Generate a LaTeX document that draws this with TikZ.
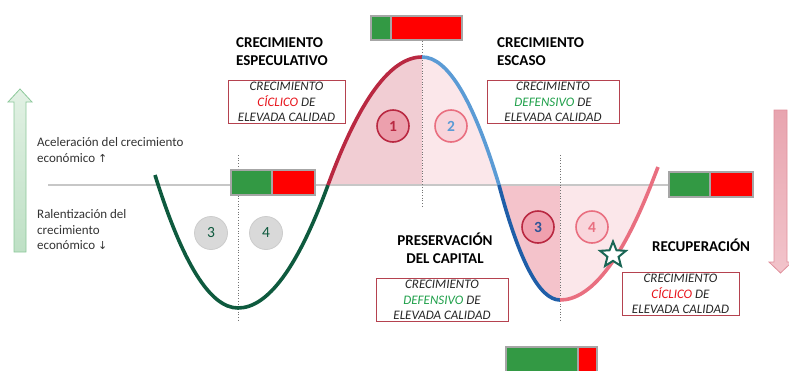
\documentclass[tikz,border=0pt]{standalone}
\usepackage{fontspec}
\setmainfont{Carlito}
\newfontfamily\symf{DejaVu Sans}
\usetikzlibrary{shapes.geometric}
\definecolor{cgreen}{HTML}{0E5A3E}
\definecolor{cred}{HTML}{B92841}
\definecolor{clblue}{HTML}{5B9BD5}
\definecolor{cdblue}{HTML}{1F5EA8}
\definecolor{cpink}{HTML}{E96F80}
\definecolor{fdark}{HTML}{F1CDD3}
\definecolor{flight}{HTML}{FBE7EA}
\definecolor{fdark2}{HTML}{F4C3CB}
\definecolor{barg}{HTML}{339944}
\definecolor{barr}{HTML}{FF0000}
\definecolor{barf}{HTML}{A6A6A6}
\definecolor{boxc}{HTML}{B5424F}
\definecolor{txt}{HTML}{262626}
\definecolor{axtxt}{HTML}{333333}
\definecolor{cyred}{HTML}{E8131B}
\definecolor{dfgreen}{HTML}{1FA04A}
\definecolor{startl}{HTML}{1A6655}
\tikzset{
  curve/.style={line width=3.6pt},
  zeroline/.style={draw=black!22, line width=1.8pt},
  vdot/.style={draw=black!55, dotted, line width=0.7pt},
  bigl/.style={font=\fontsize{15}{18}\selectfont\bfseries, text=black, inner sep=0pt, anchor=base west},
  boxt/.style={font=\fontsize{13}{15}\selectfont\itshape, text=txt, inner sep=0pt, anchor=base},
  axl/.style={font=\fontsize{13}{16}\selectfont, text=axtxt, inner sep=0pt, anchor=base west},
  tbox/.style={draw=boxc, line width=1.2pt, fill=white, rectangle, inner sep=0pt, anchor=north west},
  numc/.style={circle, minimum size=32pt, inner sep=0pt, line width=1.6pt, font=\fontsize{15.5}{17}\selectfont\bfseries},
  grayc/.style={circle, minimum size=33pt, inner sep=0pt, line width=0.8pt, draw=black!20, fill=black!15, text=cgreen, font=\fontsize{15.5}{17}\selectfont},
}
\begin{document}
\begin{tikzpicture}[x=1pt,y=-1pt]
\useasboundingbox (0,0) rectangle (789,370);
% filled regions
\fill[fdark] (328,185) .. controls (359.33,99.67) and (390.67,57) .. (422,57) -- (422,185) -- cycle;
\fill[flight] (422,57) .. controls (447.67,57) and (473.33,99.67) .. (499,185) -- (422,185) -- cycle;
\fill[fdark2] (499,185) .. controls (519.33,261.67) and (539.67,300) .. (560,300) -- (560,185) -- cycle;
\fill[flight] (560,300) .. controls (590.33,300) and (620.67,261.67) .. (651,185) -- (560,185) -- cycle;
% zero line
\draw[zeroline] (48,185) -- (668,185);
% dotted guides
\draw[vdot] (238,155) -- (238,322);
\draw[vdot] (422,41) -- (422,207);
\draw[vdot] (560,155) -- (560,322);
% side arrows
\shadedraw[top color={rgb,255:red,226;green,241;blue,228}, bottom color={rgb,255:red,190;green,224;blue,197}, draw={rgb,255:red,140;green,200;blue,154}, line width=0.8pt]
  (14,252) -- (14,102) -- (8,102) -- (20,89) -- (32,102) -- (26,102) -- (26,252) -- cycle;
\shadedraw[top color={rgb,255:red,232;green,164;blue,175}, bottom color={rgb,255:red,242;green,196;blue,203}, draw={rgb,255:red,224;green,144;blue,156}, line width=0.8pt]
  (774,110) -- (787,110) -- (787,262) -- (792,262) -- (780.5,273) -- (769,262) -- (774,262) -- cycle;
% curve
\draw[curve, cgreen] (155,175) .. controls (182.67,263.67) and (210.33,308) .. (238,308)
  .. controls (268,308) and (298,267) .. (328,185);
\draw[curve, cred] (328,185) .. controls (359.33,99.67) and (390.67,57) .. (422,57);
\draw[curve, clblue] (422,57) .. controls (447.67,57) and (473.33,99.67) .. (499,185);
\draw[curve, cdblue] (499,185) .. controls (519.33,261.67) and (539.67,300) .. (560,300);
\draw[curve, cpink] (560,300) .. controls (590.33,300) and (620.67,261.67) .. (651,185) -- (658,167);
% circles
\node[numc, draw=cred, fill={rgb,255:red,236;green,160;blue,173}, text=cred] (c1) at (393,126) {1};
\node[numc, draw=cpink, fill={rgb,255:red,248;green,212;blue,218}, text=clblue] (c2) at (451,126) {2};
\node[numc, draw=cred, fill={rgb,255:red,240;green,160;blue,174}, text={rgb,255:red,47;green,85;blue,151}] (c3) at (538,227) {3};
\node[numc, draw=cpink, fill={rgb,255:red,249;green,213;blue,219}, text=cpink] (c4) at (592,227) {4};
\node[grayc] (g3) at (211,233) {3};
\node[grayc] (g4) at (266,233) {4};
% star
\node[star, star points=5, star point ratio=2.3, minimum size=27pt, inner sep=0pt, draw=startl, fill=white, line width=2pt] (st) at (613,255) {};
% bars
\fill[barf] (370,15) rectangle (463,41);
\fill[barg] (372,17) rectangle (390,39);
\fill[barr] (392,17) rectangle (461,39);
\fill[barf] (230,169) rectangle (316,196);
\fill[barg] (232,171) rectangle (271,194);
\fill[barr] (273,171) rectangle (314,194);
\fill[barf] (668,171) rectangle (754,198);
\fill[barg] (670,173) rectangle (709,196);
\fill[barr] (711,173) rectangle (752,196);
\fill[barf] (505,346) rectangle (598,374);
\fill[barg] (507,348) rectangle (577,372);
\fill[barr] (579,348) rectangle (596,372);
% bold labels
\node[bigl] (l1a) at (236,47) {CRECIMIENTO};
\node[bigl] (l1b) at (236,65) {ESPECULATIVO};
\node[bigl] (l2a) at (497,47) {CRECIMIENTO};
\node[bigl] (l2b) at (497,65) {ESCASO};
\node[bigl, anchor=base] (l3a) at (445,245) {PRESERVACIÓN};
\node[bigl, anchor=base] (l3b) at (445,263) {DEL CAPITAL};
\node[bigl] (l4) at (652,251) {RECUPERACIÓN};
% axis labels
\node[axl] (a1) at (37,146) {Aceleración del crecimiento};
\node[axl] (a2) at (37,162) {económico {\symf\fontsize{11}{13}\selectfont ↑}};
\node[axl] (r1) at (37,218) {Ralentización del};
\node[axl] (r2) at (37,234) {crecimiento};
\node[axl] (r3) at (37,249) {económico {\symf\fontsize{11}{13}\selectfont ↓}};
% text boxes
\node[tbox, minimum width=117pt, minimum height=43pt] (b1) at (228,80) {};
\node[boxt] at (286.5,90) {CRECIMIENTO};
\node[boxt] at (286.5,106) {\textcolor{cyred}{CÍCLICO} DE};
\node[boxt] at (286.5,121) {ELEVADA CALIDAD};
\node[tbox, minimum width=132pt, minimum height=43pt] (b2) at (487,80) {};
\node[boxt] at (553,90) {CRECIMIENTO};
\node[boxt] at (553,106) {\textcolor{dfgreen}{DEFENSIVO} DE};
\node[boxt] at (553,121) {ELEVADA CALIDAD};
\node[tbox, minimum width=132pt, minimum height=43pt] (b3) at (376,278) {};
\node[boxt] at (442,288) {CRECIMIENTO};
\node[boxt] at (442,304) {\textcolor{dfgreen}{DEFENSIVO} DE};
\node[boxt] at (442,319) {ELEVADA CALIDAD};
\node[tbox, minimum width=117pt, minimum height=43pt] (b4) at (622,272) {};
\node[boxt] at (680.5,282) {CRECIMIENTO};
\node[boxt] at (680.5,298) {\textcolor{cyred}{CÍCLICO} DE};
\node[boxt] at (680.5,313) {ELEVADA CALIDAD};
\end{tikzpicture}
\end{document}
